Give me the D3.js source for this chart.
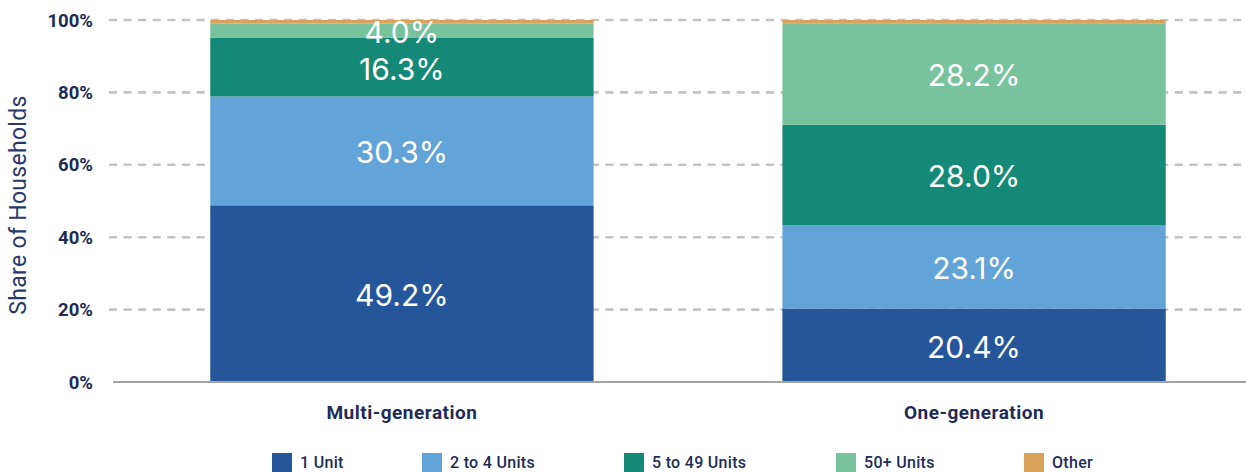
<!DOCTYPE html>
<html><head><meta charset="utf-8">
<script src="https://cdn.jsdelivr.net/npm/d3@7"></script>
<style>html,body{margin:0;padding:0;background:#fff;}svg{display:block;}</style>
</head><body>
<svg id="chart" width="1246" height="472"></svg>
<script>
const categories = ["Multi-generation", "One-generation"];
const seriesNames = ["1 Unit", "2 to 4 Units", "5 to 49 Units", "50+ Units", "Other"];
const unit1 = [49.2, 20.4];
const units2to4 = [30.3, 23.1];
const units5to49 = [16.3, 28.0];
const units50plus = [4.0, 28.2];
const other = [1.0, 0.9];
const yTicks = [0, 20, 40, 60, 80, 100];
const colors = ["#26569a", "#62a4d8", "#148978", "#78c39d", "#d9a25b"];

const seriesValues = [unit1, units2to4, units5to49, units50plus, other];
const rows = categories.map((c, i) => {
  const r = {category: c};
  seriesNames.forEach((s, j) => r[s] = seriesValues[j][i]);
  return r;
});

const svg = d3.select("#chart");
const x = d3.scaleBand().domain(categories).range([113, 1263]).paddingInner(0.33).paddingOuter(0.17);
const y = d3.scaleLinear().domain([0, 1]).range([382, 20]);

const stack = d3.stack().keys(seriesNames).offset(d3.stackOffsetExpand);
const stacked = stack(rows);

const navy = "#1d2b57";

// gridlines
svg.append("g").selectAll("line").data(yTicks.filter(t => t > 0)).join("line")
  .attr("x1", 110).attr("x2", 1246)
  .attr("y1", d => y(d / 100)).attr("y2", d => y(d / 100))
  .attr("stroke", "#c3c3c3").attr("stroke-width", 2.6)
  .attr("stroke-dasharray", "6 8.6").attr("stroke-linecap", "round");

// tick labels
svg.append("g").selectAll("text").data(yTicks).join("text")
  .attr("x", 93).attr("y", d => y(d / 100))
  .attr("dy", "0.36em").attr("text-anchor", "end")
  .attr("font-family", "Roboto, sans-serif").attr("font-weight", 700)
  .attr("font-size", 18.5).attr("fill", navy)
  .text(d => d + "%");

// bars
const layers = svg.append("g").selectAll("g").data(stacked).join("g")
  .attr("fill", (d, i) => colors[i]);
layers.selectAll("rect").data(d => d.map(p => ({p, cat: p.data.category}))).join("rect")
  .attr("x", d => x(d.cat)).attr("width", x.bandwidth())
  .attr("y", d => y(d.p[1])).attr("height", d => y(d.p[0]) - y(d.p[1]));

// zero axis line
svg.append("line").attr("x1", 113).attr("x2", 1246).attr("y1", y(0)).attr("y2", y(0))
  .attr("stroke", "#a3a3a3").attr("stroke-width", 2);

// value labels (skip Other)
const labelData = [];
stacked.forEach((layer, i) => {
  if (seriesNames[i] === "Other") return;
  layer.forEach((p, j) => labelData.push({
    cat: categories[j], mid: (p[0] + p[1]) / 2, val: seriesValues[i][j]
  }));
});
svg.append("g").selectAll("text").data(labelData).join("text")
  .attr("x", d => x(d.cat) + x.bandwidth() / 2)
  .attr("y", d => y(d.mid) + 1.5)
  .attr("dy", "0.36em").attr("text-anchor", "middle")
  .attr("font-family", "Inter, 'Liberation Sans', sans-serif")
  .attr("font-size", 30).attr("fill", "#ffffff")
  .text(d => d.val.toFixed(1) + "%");

// category labels
svg.append("g").selectAll("text").data(categories).join("text")
  .attr("x", d => x(d) + x.bandwidth() / 2).attr("y", 412)
  .attr("dy", "0.36em").attr("text-anchor", "middle")
  .attr("font-family", "Roboto, sans-serif").attr("font-weight", 700)
  .attr("font-size", 19).attr("letter-spacing", 0.5).attr("fill", navy)
  .text(d => d);

// y axis title
svg.append("text")
  .attr("transform", "translate(18,205) rotate(-90)")
  .attr("dy", "0.36em").attr("text-anchor", "middle")
  .attr("font-family", "Roboto, sans-serif").attr("font-size", 23)
  .attr("letter-spacing", 0.3)
  .attr("fill", "#2a3868")
  .text("Share of Households");

// legend
const legendX = [272, 422, 624, 836, 1024];
const lg = svg.append("g").selectAll("g").data(seriesNames).join("g")
  .attr("transform", (d, i) => `translate(${legendX[i]},453)`);
lg.append("rect").attr("width", 20).attr("height", 20).attr("fill", (d, i) => colors[i]);
lg.append("text").attr("x", 28).attr("y", 14.5)
  .attr("font-family", "Roboto, sans-serif").attr("font-weight", 500)
  .attr("font-size", 16).attr("letter-spacing", 0.3).attr("fill", navy)
  .text(d => d);
</script>
</body></html>
